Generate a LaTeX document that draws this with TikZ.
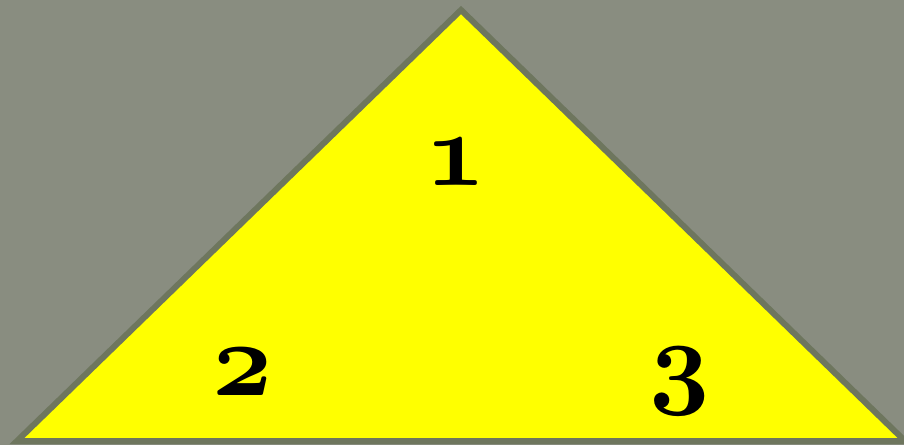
\documentclass[tikz,border=0pt]{standalone}
\usepackage{xcolor}
\usepackage{tikz}
\usetikzlibrary{positioning}

\definecolor{slate}{HTML}{898D80}
\definecolor{rim}{HTML}{6E765E}
\definecolor{lemon}{HTML}{FFFF00}

\tikzset{
  num/.style={font=\fontencoding{OML}\fontfamily{cmm}\fontseries{b}\fontshape{it}\fontsize{24.88}{30}\selectfont, inner sep=0pt, anchor=base, scale=1.2, transform shape}
}

\begin{document}
\begin{tikzpicture}[x=0.01cm, y=-0.01cm]
  \fill[slate] (0,0) rectangle (904,445);
  \useasboundingbox (0,0) rectangle (904,445);
  \filldraw[fill=lemon, draw=rim, line width=0.06cm, line join=miter]
    (461,10) -- (17,441) -- (905,441) -- cycle;
  \node[num] (n1) at (456,185) {1};
  \node[num] (n2) at (243,395) {2};
  \node[num] (n3) at (680,394) {3};
\end{tikzpicture}
\end{document}
